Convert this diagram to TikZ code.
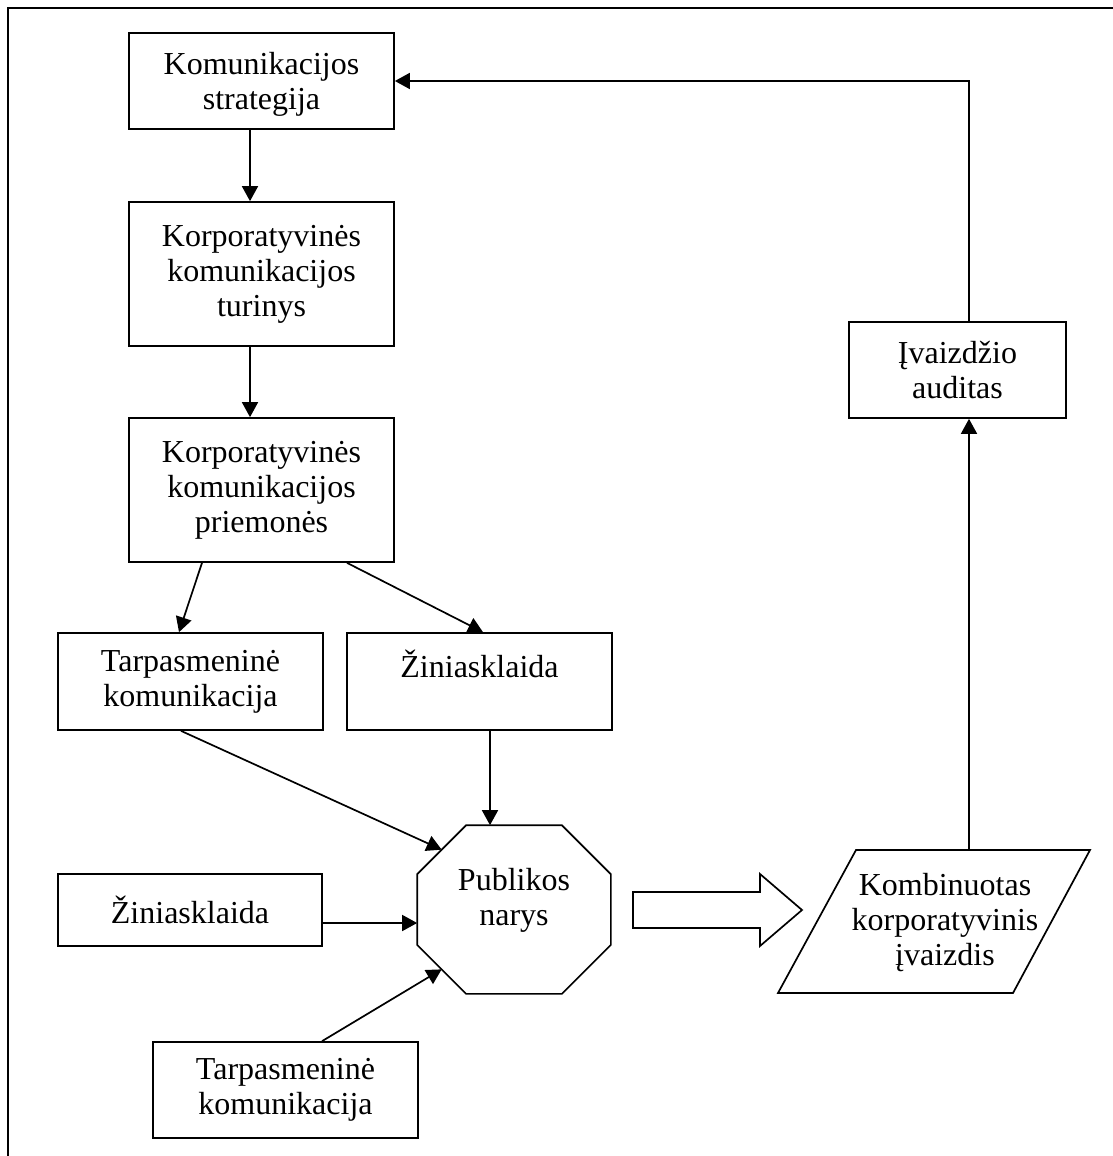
\documentclass[tikz,border=0pt]{standalone}
\usepackage{fontspec}
\setmainfont{Liberation Serif}
\usetikzlibrary{arrows.meta,calc}
\begin{document}
\begin{tikzpicture}[x=1pt,y=-1pt,
  line width=1.7pt,
  txt/.style={font=\fontsize{32}{35}\selectfont, align=center, inner sep=0pt},
  box/.style={txt, draw, rectangle, minimum width=265pt},
  arr/.style={-{Triangle[length=15pt,width=16pt]}},
]
\useasboundingbox (0,0) rectangle (1112,1156);

% outer frame (left and top edges)
\draw[line width=2pt] (8,1170) -- (8,8) -- (1125,8);

% left column
\node[box, minimum height=96pt]  (strat) at (261.5,81)  {};
\node[txt] (strattxt) at (261.5,84) {Komunikacijos\\strategija};
\node[box, minimum height=144pt] (turin) at (261.5,274) {Korporatyvinės\\komunikacijos\\turinys};
\node[box, minimum height=144pt] (priem) at (261.5,490) {Korporatyvinės\\komunikacijos\\priemonės};

\node[box, minimum height=97pt] (tarpA) at (190.5,681.5) {Tarpasmeninė\\komunikacija};
\node[box, minimum height=97pt] (zinA)  at (479.5,681.5) {Žiniasklaida\\~};

\node[box, minimum width=264pt, minimum height=72pt] (zinB) at (190,910) {Žiniasklaida};
\node[box, minimum height=96pt] (tarpB) at (285.5,1090) {Tarpasmeninė\\komunikacija};

% public member (octagon)
\node[rectangle, minimum width=192pt, minimum height=167pt, inner sep=0pt] (pub) at (514,909.5) {};
\draw ([xshift=49pt]pub.north west) -- ([xshift=-49pt]pub.north east)
   -- ([yshift=-49pt]pub.north east) -- ([yshift=49pt]pub.south east)
   -- ([xshift=-49pt]pub.south east) -- ([xshift=49pt]pub.south west)
   -- ([yshift=49pt]pub.south west) -- ([yshift=-49pt]pub.north west) -- cycle;
\node[txt] (pubtxt) at (514,900) {Publikos\\narys};
\coordinate (pubUL) at ($(pub.north west)+(24.5,24.5)$);
\coordinate (pubLL) at ($(pub.south west)+(24.5,-24.5)$);

% combined image (parallelogram)
\draw (856,850) -- (1090,850) -- (1013,993) -- (778,993) -- cycle;
\node[txt] (komb) at (945,923) {Kombinuotas\\korporatyvinis\\įvaizdis};
\coordinate (kombtop) at (969,850);

% image audit
\node[box, minimum width=217pt, minimum height=96pt] (audit) at (957.5,370) {Įvaizdžio\\auditas};

% block arrow
\draw (633,892) -- (760,892) -- (760,874) -- (802,910) -- (760,946) -- (760,928) -- (633,928) -- cycle;

% connectors
\draw[arr] ([xshift=-11.5pt]strat.south) -- ([xshift=-11.5pt]turin.north);
\draw[arr] ([xshift=-11.5pt]turin.south) -- ([xshift=-11.5pt]priem.north);
\draw[arr] ([xshift=-59.5pt]priem.south) -- ([xshift=-11.5pt]tarpA.north);
\draw[arr] ([xshift=85.5pt]priem.south) -- ([xshift=3.5pt]zinA.north);
\draw[arr] ([xshift=-9.5pt]tarpA.south) -- (pubUL);
\draw[arr] ([xshift=10.5pt]zinA.south) -- ([xshift=-24pt]pub.north);
\draw[arr] ([yshift=-13pt]zinB.east) -- ([yshift=-13.5pt]pub.west);
\draw[arr] ([xshift=36.5pt]tarpB.north) -- (pubLL);
\draw[arr] (kombtop) -- ([xshift=11.5pt]audit.south);
\draw[arr] ([xshift=11.5pt]audit.north) |- (strat.east);
\end{tikzpicture}
\end{document}
